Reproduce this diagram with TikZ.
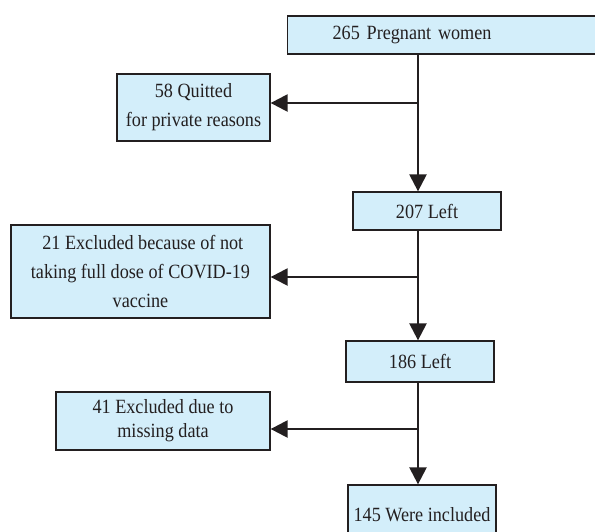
\documentclass[tikz,border=0pt]{standalone}
\usepackage{fontspec}
\setmainfont{Liberation Serif}[FakeStretch=0.9]
\usetikzlibrary{arrows.meta,positioning}
\definecolor{boxBlue}{HTML}{D3EEFA}
\definecolor{lineDark}{HTML}{231F20}

\begin{document}
\begin{tikzpicture}[x=1pt, y=-1pt,
    every node/.style={font=\fontsize{20.2}{29}\selectfont, text=lineDark},
    stage/.style={draw=lineDark, fill=boxBlue, line width=1.3pt, align=center, inner sep=0pt},
    flow/.style={draw=lineDark, line width=2.4pt, -{Triangle[length=17pt, width=17pt]}},
  ]
  \useasboundingbox (0,0) rectangle (595,531);
  \clip (0,0) rectangle (595,531);

  % Main stages (right column)
  \node[stage, anchor=west, align=left, text width=238pt, inner xsep=45pt,
        minimum height=38pt] (women) at (287,35) {265 Pregnant women};
  \node[stage, minimum width=148pt, minimum height=38pt] (leftA) at (427,211) {207 Left};
  \node[stage, minimum width=148pt, minimum height=41pt] (leftB) at (420,361.5) {186 Left};
  \node[stage, minimum width=148pt, minimum height=60pt] (included) at (422,515) {145 Were included};

  % Exclusions (left column)
  \node[stage, minimum width=153pt, minimum height=67pt] (quit) at (193.5,107.5)
    {58 Quitted\\for private reasons};
  \node[stage, minimum width=259pt, minimum height=93pt] (exclDose) at (140.5,271.5)
    {\ 21 Excluded because of not\\taking full dose of COVID-19\\vaccine};
  \node[stage, minimum width=214pt, minimum height=58pt,
        font=\fontsize{20.2}{24}\selectfont] (exclData) at (163,421)
    {41 Excluded due to\\missing data};

  % Trunk
  \coordinate (trunk) at (418,0);
  \draw[flow] (women.south -| trunk) -- (leftA.north -| trunk);
  \draw[flow] (leftA.south -| trunk) -- (leftB.north -| trunk);
  \draw[flow] (leftB.south -| trunk) -- (included.north -| trunk);

  % Branches
  \draw[flow] ([yshift=4.5pt]quit.east -| trunk) -- ([yshift=4.5pt]quit.east);
  \draw[flow] ([yshift=-5.5pt]exclDose.east -| trunk) -- ([yshift=-5.5pt]exclDose.east);
  \draw[flow] ([yshift=-8pt]exclData.east -| trunk) -- ([yshift=-8pt]exclData.east);
\end{tikzpicture}
\end{document}
